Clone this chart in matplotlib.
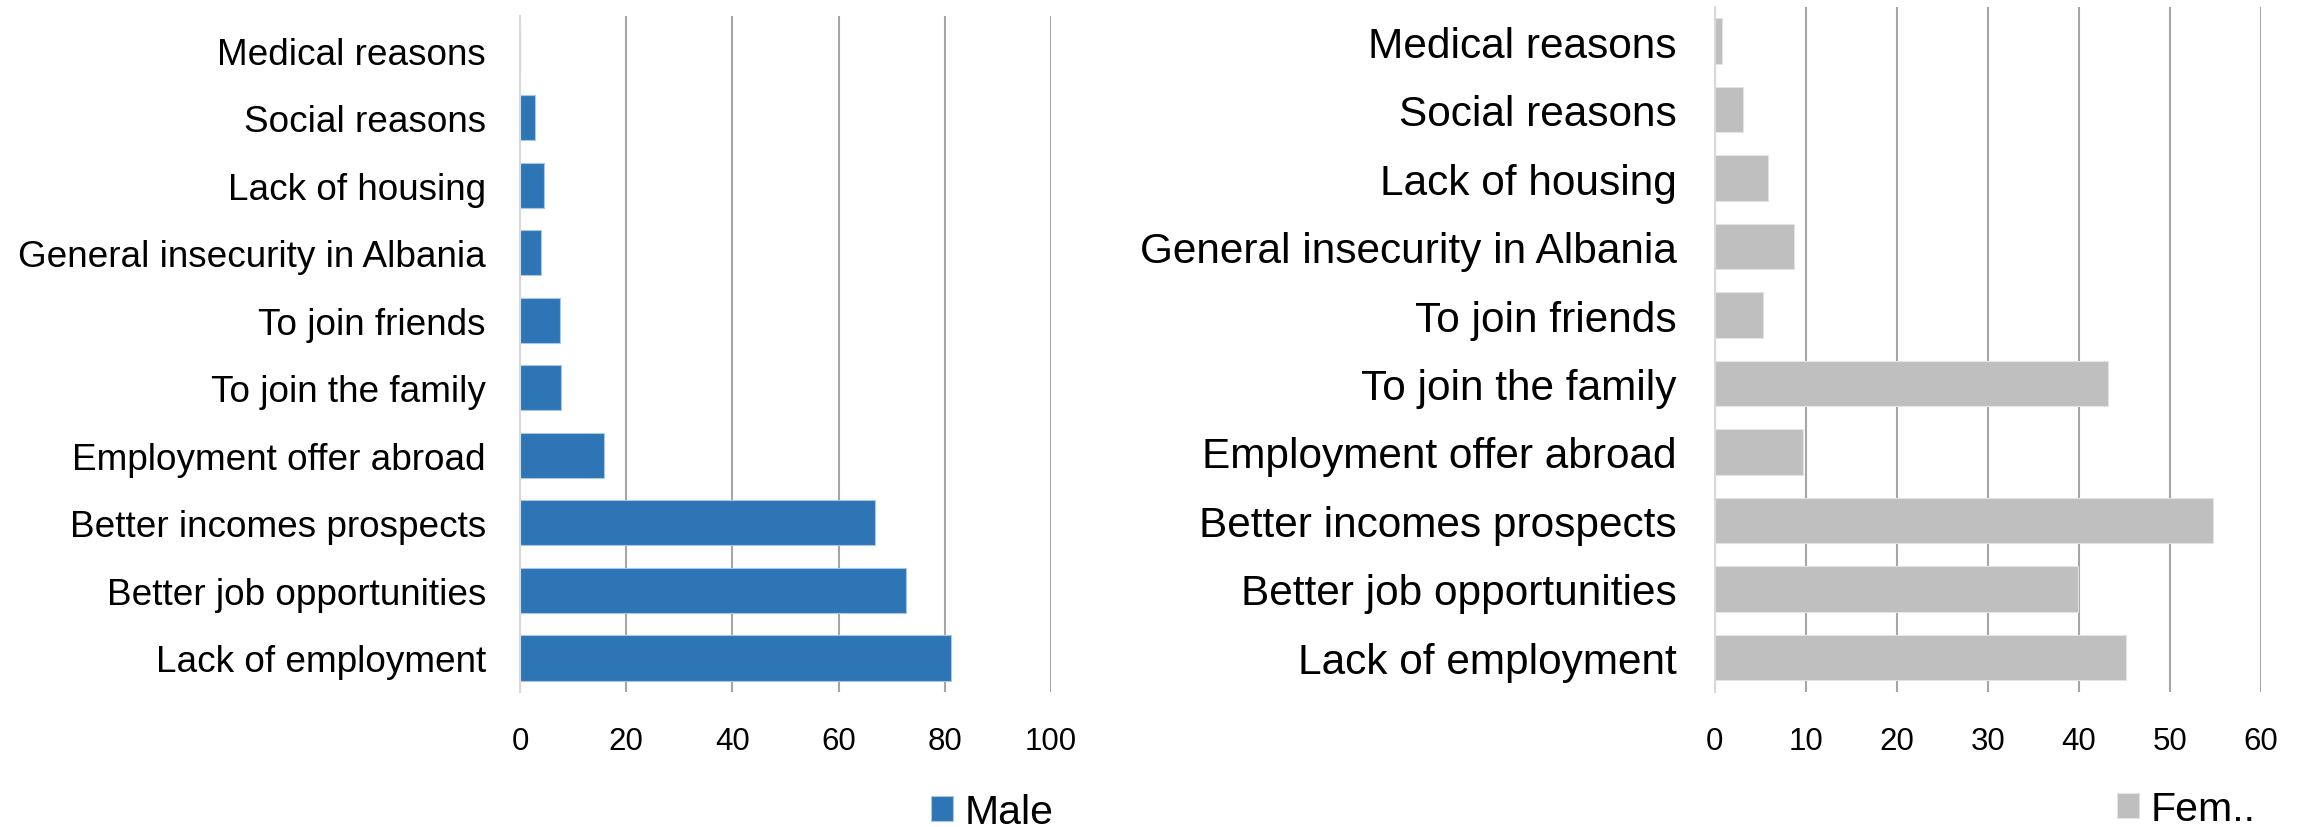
import matplotlib.pyplot as plt

plt.rcParams['font.family'] = ['Liberation Sans', 'DejaVu Sans']

# Reasons for emigration, top to bottom
reasons = [
    'Medical reasons',
    'Social reasons',
    'Lack of housing',
    'General insecurity in Albania',
    'To join friends',
    'To join the family',
    'Employment offer abroad',
    'Better incomes prospects',
    'Better job opportunities',
    'Lack of employment',
]
male = [0, 2.8, 4.5, 4.0, 7.5, 7.7, 15.8, 66.8, 72.7, 81.1]
female = [0.8, 3.1, 5.9, 8.7, 5.3, 43.2, 9.7, 54.8, 39.9, 45.2]

male_ticks = [0, 20, 40, 60, 80, 100]
female_ticks = [0, 10, 20, 30, 40, 50, 60]

BLUE = '#2E75B6'
GREY = '#BFBFBF'
GRID = '#A6A6A6'

W, H = 2305, 828
fig = plt.figure(figsize=(W / 100, H / 100), dpi=100)


def draw_panel(rect, values, ticks, color, edge, label_size, label_pad, legend_label, legend_xy):
    ax = fig.add_axes(rect)
    pos = range(len(reasons))
    bars = ax.barh(pos, values, height=0.67, color=color, edgecolor=edge,
                   linewidth=0.8, label=legend_label, zorder=3)

    ax.set_ylim(len(reasons) - 0.5, -0.5)
    ax.set_yticks(list(pos))
    ax.set_yticklabels(reasons, fontsize=label_size)
    ax.tick_params(axis='y', length=0, pad=label_pad)

    ax.set_xlim(ticks[0], ticks[-1])
    ax.set_xticks(ticks)
    ax.tick_params(axis='x', length=0, pad=25, labelsize=22.5)

    ax.grid(axis='x', color=GRID, linewidth=1.5, zorder=0)
    for side in ('top', 'right', 'bottom'):
        ax.spines[side].set_visible(False)
    ax.spines['left'].set_color('#D9D9D9')
    ax.spines['left'].set_linewidth(1.5)
    ax.spines['left'].set_zorder(4)

    fig.legend(handles=[bars], labels=[legend_label], loc='center left',
               bbox_to_anchor=legend_xy, frameon=False, fontsize=29.5,
               handlelength=0.54, handleheight=0.54, handletextpad=0.28,
               borderpad=0, borderaxespad=0)
    return ax


# Left panel: male respondents
draw_panel([520 / W, 1 - 692.7 / H, 531 / W, 675.3 / H],
           male, male_ticks, BLUE, '#A9C6E6', 26.6, 24.5,
           'Male', (931 / W, 1 - 813 / H))

# Right panel: female respondents
draw_panel([1714.7 / W, 1 - 692.7 / H, 546 / W, 684.9 / H],
           female, female_ticks, GREY, '#E3E3E3', 30.5, 27.3,
           'Fem..', (2117 / W, 1 - 810 / H))

plt.savefig('out.png', dpi=100, facecolor='white')
